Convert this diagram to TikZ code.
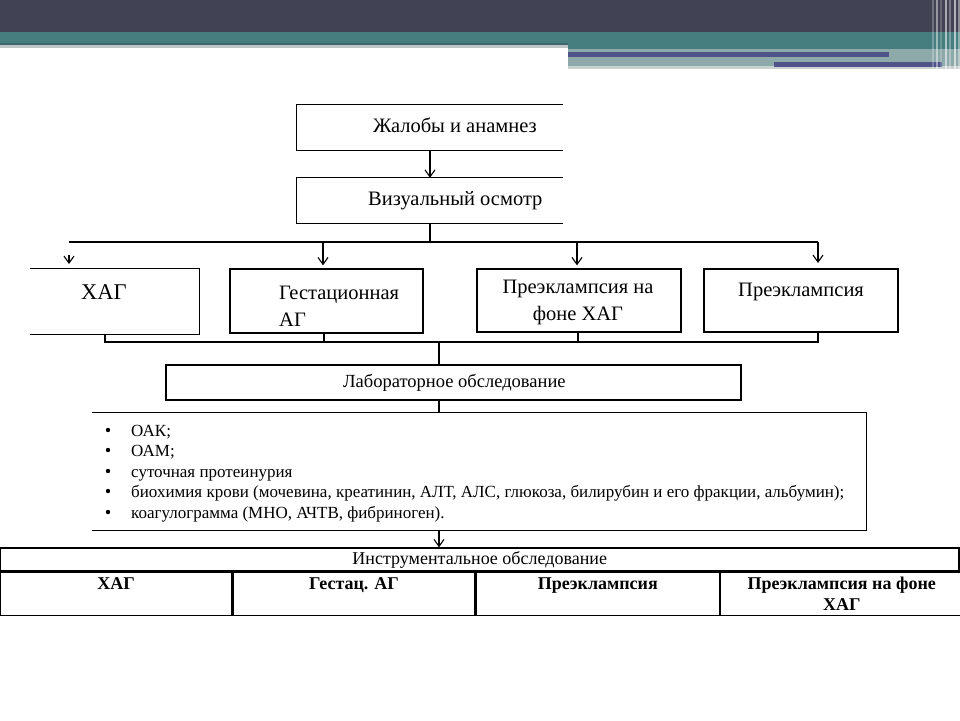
\documentclass[tikz,border=0pt]{standalone}
\usepackage{fontspec}
\setmainfont{Liberation Serif}
\usetikzlibrary{calc,arrows.meta}

\definecolor{bandDark}{HTML}{414254}
\definecolor{bandTeal}{HTML}{467E7F}
\definecolor{bandShade}{HTML}{3F6668}
\definecolor{bandGrey}{HTML}{BCC6C6}
\definecolor{bandMist}{HTML}{8DA9A9}
\definecolor{bandPale}{HTML}{C9D1D1}
\definecolor{barPurple}{HTML}{4F5388}

\begin{document}
\begin{tikzpicture}[x=1pt,y=-1pt,
  edge/.style={line width=1.3pt},
  bus/.style={line width=2.2pt},
  arr/.style={line width=1.1pt,-{Straight Barb[length=7pt,width=10pt]}},
  frame/.style={inner sep=0pt},
  lbl/.style={inner sep=0pt,anchor=mid west,font=\fontsize{20.5}{22}\selectfont},
  item/.style={inner sep=0pt,anchor=mid west,font=\fontsize{17}{19}\selectfont},
  cell/.style={draw,line width=1.3pt,inner sep=0pt},
  head/.style={inner sep=0pt,anchor=mid,font=\fontsize{18}{21}\selectfont\bfseries,align=center}]
\useasboundingbox (0,0) rectangle (960,720);
% banner
\fill[bandDark] (0,0) rectangle (960,32);
\fill[bandTeal] (0,32) rectangle (568,43);
\fill[bandShade] (0,43) rectangle (568,45);
\fill[bandGrey] (0,45) rectangle (568,48);
\fill[bandTeal] (568,32) rectangle (960,49);
\fill[bandMist] (568,49) rectangle (960,66);
\fill[bandPale] (568,66) rectangle (960,69);
\fill[barPurple] (568,52) rectangle (889,57);
\fill[barPurple] (774,62) rectangle (942,67);
\foreach \x/\s in {932/25,936/45,940/20,945/55,949/30,954/60,958/40}{
	\fill[white,opacity=\s/100] (\x,0) rectangle ++(1.5,69);
	}

% complaints and examination
\node[frame,minimum width=266,minimum height=45] (complaints) at (430,127.5) {};
\draw[edge] (complaints.north east) -- (complaints.north west) -- (complaints.south west) -- (complaints.south east);
\node[lbl] (complaintsText) at (373,130) {Жалобы и анамнез};
\node[frame,minimum width=266,minimum height=45] (visual) at (430,200.5) {};
\draw[edge] (visual.north east) -- (visual.north west) -- (visual.south west) -- (visual.south east);
\node[lbl] (visualText) at (368,203) {Визуальный осмотр};
\draw[arr] (complaints.south) -- (visual.north);

% four forms
\node[frame,minimum width=169,minimum height=65] (chronic) at (114.5,301.5) {};
\draw[edge] (chronic.north west) -- (chronic.north east) -- (chronic.south east) -- (chronic.south west);
\node[lbl,font=\fontsize{22.5}{24}\selectfont] (chronicText) at (81,297) {ХАГ};
\node[frame,draw,line width=1.3pt,minimum width=193,minimum height=64] (gestational) at (326.5,301) {};
\node[lbl,align=left,font=\fontsize{20.5}{26.5}\selectfont] (gestationalText) at (279,324) {Гестационная\\АГ};
\node[frame,draw,line width=1.3pt,minimum width=204,minimum height=63] (superimposed) at (579,300.5) {};
\node[lbl,anchor=mid,align=center,font=\fontsize{20.5}{27}\selectfont] (superimposedText) at (578,318) {Преэклампсия на\\фоне ХАГ};
\node[frame,draw,line width=1.3pt,minimum width=194,minimum height=63] (preeclampsia) at (801,300.5) {};
\node[lbl] (preeclampsiaText) at (738,294) {Преэклампсия};

% distribution bus
\coordinate (busMid) at (visual.south |- 0,242);
\coordinate (busA) at (69,242);
\coordinate (tipA) at (69,255);
\coordinate (busB) at (323,242);
\coordinate (busC) at (577,242);
\coordinate (busD) at (818,242);
\draw[edge] (visual.south) -- (busMid);
\draw[bus] (busA) -- (busD);
\draw[arr] (tipA) -- ++(0,9);
\draw[arr,shorten >=3pt] (busB) -- (busB |- gestational.north);
\draw[arr,shorten >=3pt] (busC) -- (busC |- superimposed.north);
\draw[arr] (busD) -- (818,263);

% collector
\coordinate (colA) at (105,342);
\coordinate (colB) at (324,342);
\coordinate (colC) at (578,342);
\coordinate (colD) at (818,342);
\coordinate (colMid) at (439,342);
\draw[edge] (colA |- chronic.south) -- (colA) -- (colD) -- (colD |- preeclampsia.south);
\draw[edge] (colB |- gestational.south) -- (colB);
\draw[edge] (colC |- superimposed.south) -- (colC);

% laboratory
\node[frame,draw,line width=1.3pt,minimum width=575,minimum height=35] (lab) at (453.5,382.5) {};
\node[lbl,font=\fontsize{18.5}{20}\selectfont] (labText) at (343,385.5) {Лабораторное обследование};
\draw[edge] (colMid) -- (colMid |- lab.north);
\node[frame,minimum width=774,minimum height=117] (tests) at (479,471.5) {};
\draw[edge] (tests.north west) -- (tests.north east) -- (tests.south east) -- (tests.south west);
\draw[edge] (colMid |- lab.south) -- (colMid |- tests.north);
\foreach \y/\t [count=\k] in {431/ОАК;, 451/ОАМ;, 472/суточная протеинурия,
	492/{биохимия крови (мочевина, креатинин, АЛТ, АЛС, глюкоза, билирубин и его фракции, альбумин);},
	513/{коагулограмма (МНО, АЧТВ, фибриноген).}}{
	\fill (108,\y-1) circle (2.2pt);
	\node[item] (test\k) at (131,\y+3) {\t};
	}

% instrumental
\node[cell,minimum width=958.5,minimum height=23,font=\fontsize{18}{20}\selectfont] (instr) at (479.75,559.5) {Инструментальное обследование};
\draw[arr] (colMid |- tests.south) -- (colMid |- instr.north);
\node[cell,minimum width=231.25,minimum height=43,anchor=north west] (colHag) at (instr.south west) {};
\node[cell,minimum width=242,minimum height=43,anchor=north west] (colGest) at (colHag.north east) {};
\node[cell,minimum width=243,minimum height=43,anchor=north west] (colPre) at (colGest.north east) {};
\node[cell,minimum width=242.25,minimum height=43,anchor=north west] (colSup) at (colPre.north east) {};
\node[head] (colHagText) at (colHag.north |- 0,587) {ХАГ};
\node[head] (colGestText) at (colGest.north |- 0,587) {Гестац. АГ};
\node[head] (colPreText) at (colPre.north |- 0,587) {Преэклампсия};
\node[head] (colSupText) at (colSup.north |- 0,608) {Преэклампсия на фоне\\ХАГ};
\end{tikzpicture}
\end{document}
